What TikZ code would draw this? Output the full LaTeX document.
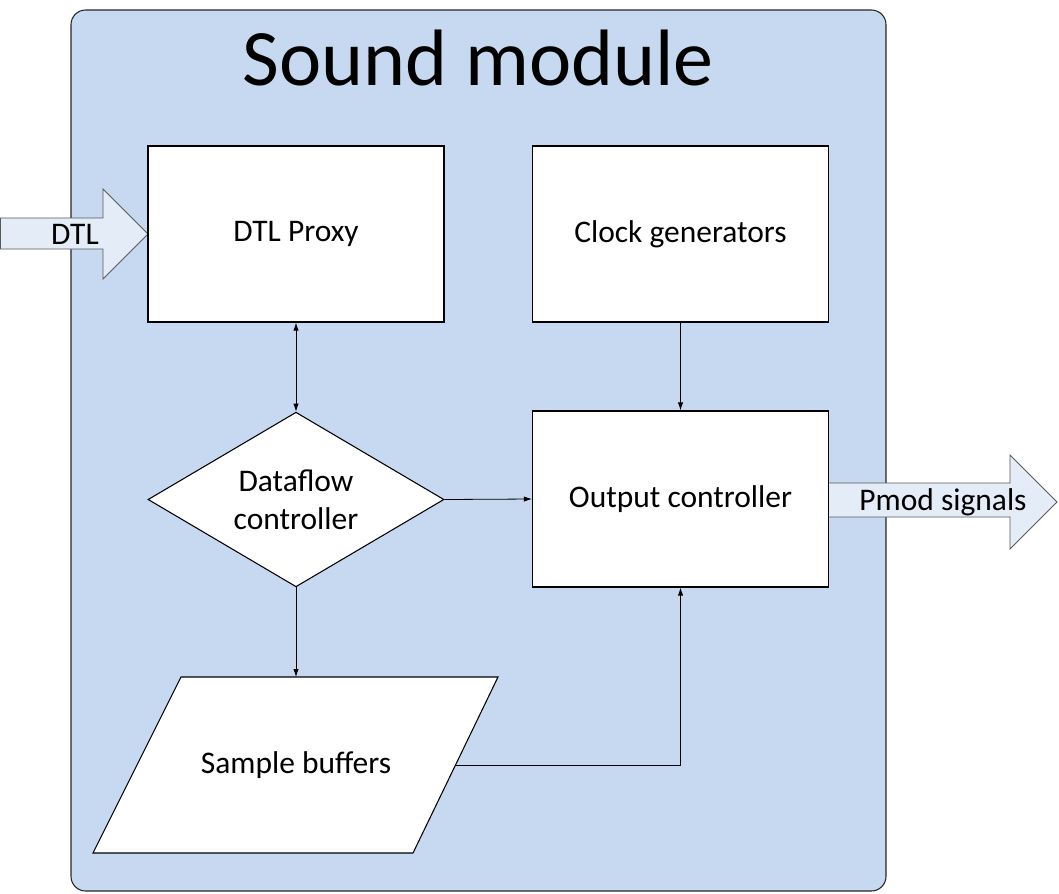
\documentclass[tikz,border=0pt]{standalone}
\usepackage{fontspec}
\setmainfont{Carlito}
\usepackage{tikz}
\usetikzlibrary{arrows.meta, shapes.geometric}
\definecolor{modfill}{HTML}{C6D9F0}
\definecolor{arrfill}{HTML}{E4ECF7}

\begin{document}
\begin{tikzpicture}[x=0.75pt, y=-0.75pt,
  txt/.style={font=\fontsize{23.6}{28.5}\selectfont},
  block/.style={txt, draw, fill=white, line width=0.8pt, minimum width=222pt, minimum height=132pt},
  decision/.style={txt, draw, fill=white, line width=0.8pt, diamond, aspect=1.7, inner sep=0pt, minimum width=222pt, minimum height=131pt, align=center},
  bigarrow/.style={draw=black!65, fill=arrfill, line width=0.6pt},
  link/.style={-{Latex[length=6pt,width=4pt]}, line width=0.6pt}]
\useasboundingbox (0,0) rectangle (1059,893);

% Module frame
\draw[fill=modfill, draw=black!85, line width=0.8pt, rounded corners=11pt] (71,10) rectangle (886,891);
\node[anchor=base, font=\fontsize{60}{72}\selectfont] (title) at (478,85) {Sound module};

% Input and output arrows
\draw[bigarrow] (0.4,218) -- (103,218) -- (103,189) -- (148,234) -- (103,279) -- (103,249) -- (0.4,249) -- cycle;
\node[txt] (dtl) at (75,234) {DTL};
\draw[bigarrow] (828,483) -- (1010,483) -- (1010,455) -- (1057,502) -- (1010,549) -- (1010,517) -- (828,517) -- cycle;
\node[txt] (pmod) at (943,502) {Pmod signals};

% Blocks
\node[block] (proxy) at (296,234) {DTL Proxy};
\node[block] (clock) at (680.5,234) {Clock generators};
\node[decision] (flow) at (296,499.5) {Dataflow\\controller};
\node[block] (outc) at (680.5,499) {Output controller};

% Sample buffers (parallelogram)
\draw[fill=white, line width=0.8pt] (181,677) -- (498,677) -- (413,853) -- (93,853) -- cycle;
\node[txt] (buf) at (296,765) {Sample buffers};
\coordinate (buftop) at (296,677);
\coordinate (bufright) at (455.5,765);

% Connections
\draw[{Latex[length=6pt,width=4pt]}-{Latex[length=6pt,width=4pt]}, line width=0.6pt] (proxy.south) -- (flow.north);
\draw[link] (clock.south) -- (outc.north);
\draw[link] (flow.east) -- (outc.west);
\draw[link] (flow.south) -- (buftop);
\draw[link] (bufright) -| (outc.south);

\end{tikzpicture}
\end{document}
